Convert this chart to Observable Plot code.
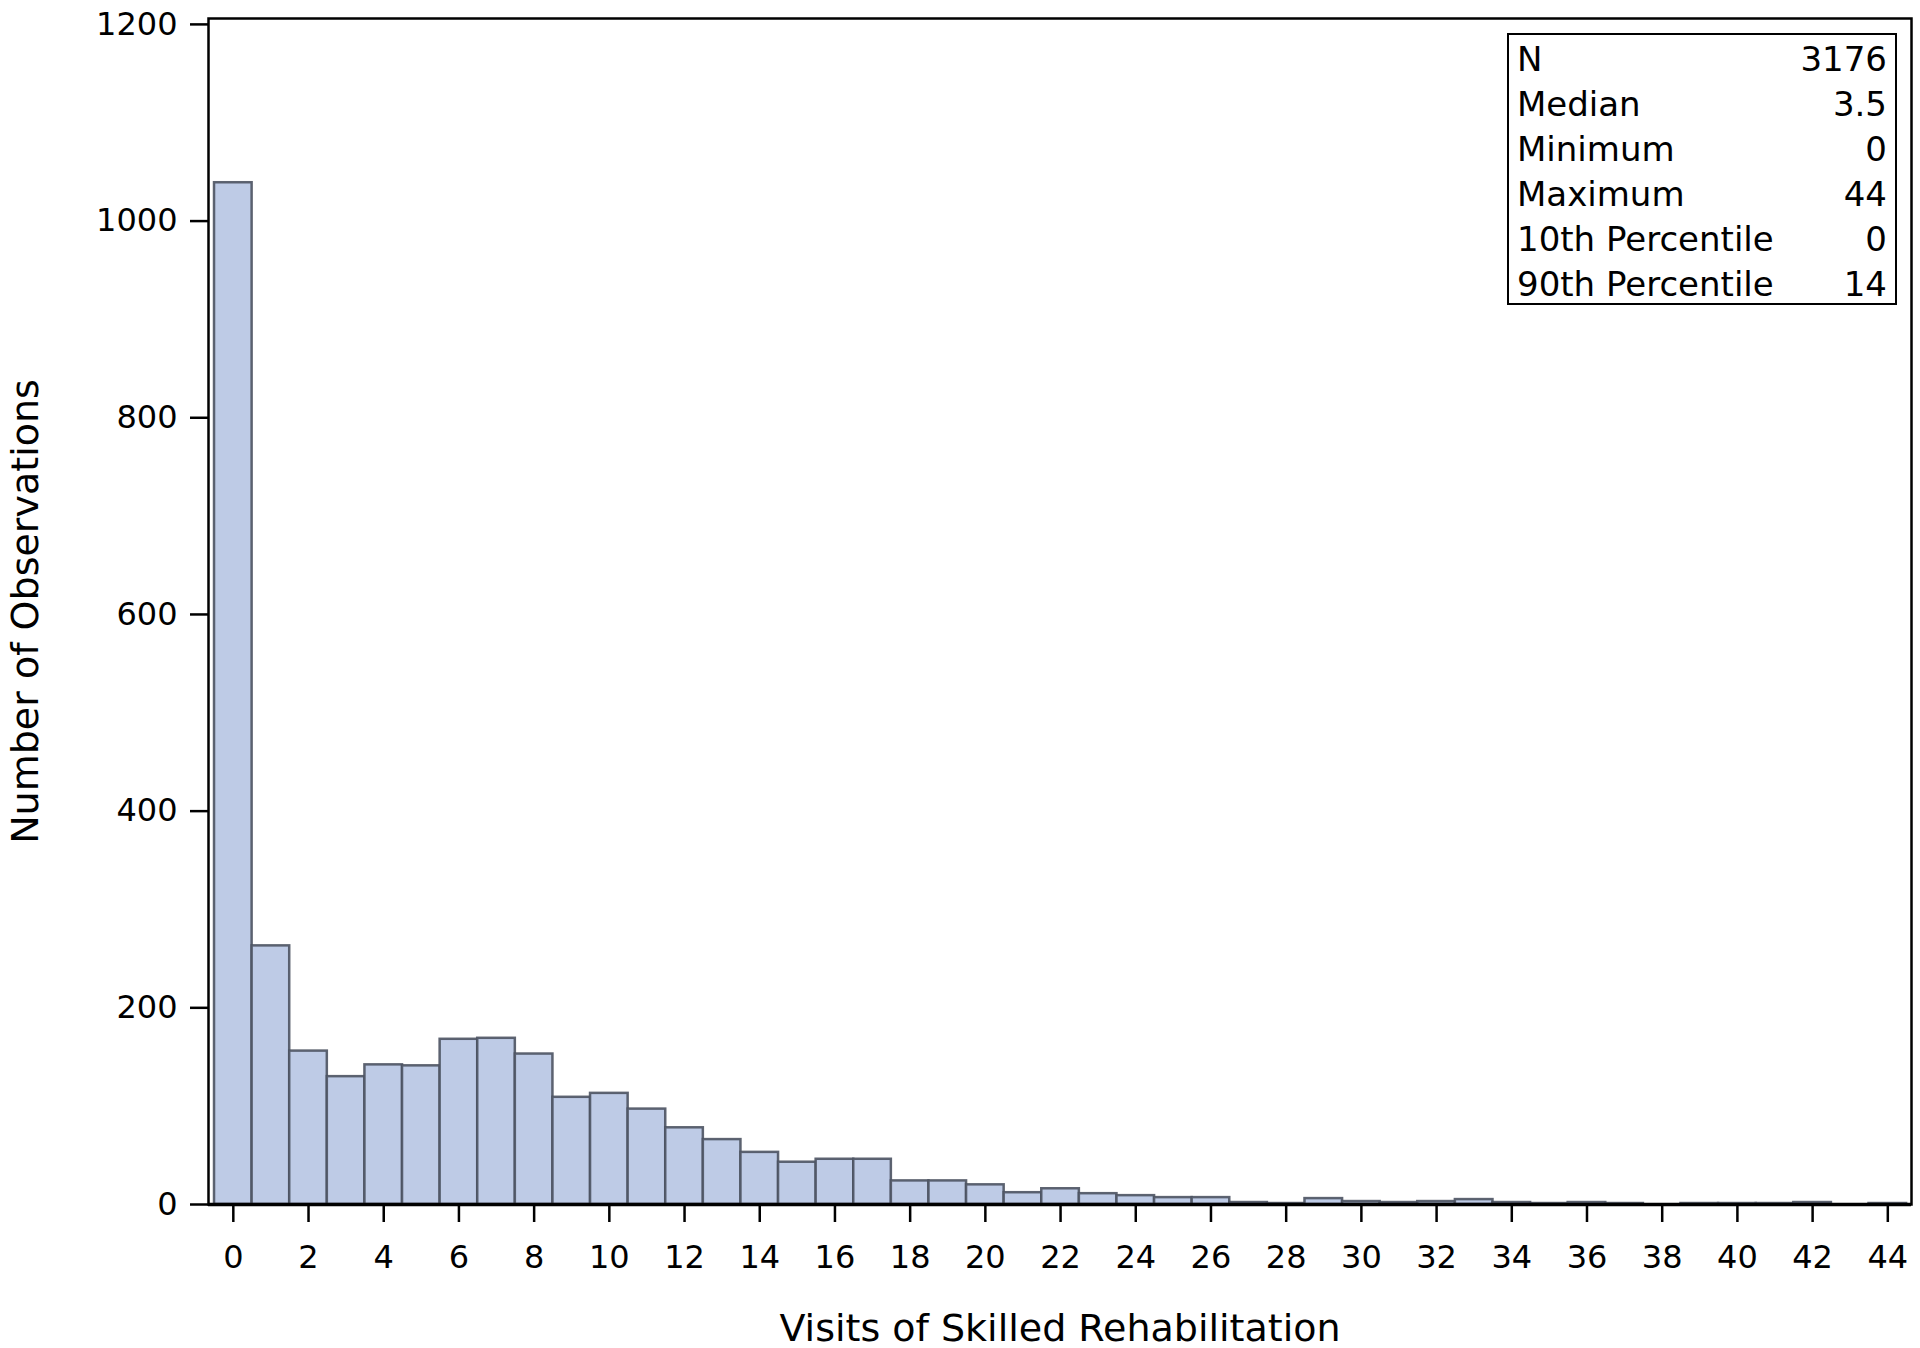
<!DOCTYPE html>
<html>
<head>
<meta charset="utf-8">
<script src="https://cdn.jsdelivr.net/npm/d3@7"></script>
<script src="https://cdn.jsdelivr.net/npm/@observablehq/plot@0.6"></script>
<style>
  html, body { margin: 0; padding: 0; background: #fff; }
  #wrap { position: relative; width: 1920px; height: 1348px; font-family: "DejaVu Sans", sans-serif; }
  #stats {
    position: absolute; left: 1507px; top: 33px; width: 390px; height: 272px;
    box-sizing: border-box; border: 2.5px solid #000; padding: 2px 8px 0 8px;
    font-size: 34px; line-height: 45px; color: #000; background: #fff; overflow: visible;
  }
  .row { display: flex; justify-content: space-between; white-space: nowrap; }
</style>
</head>
<body>
<div id="wrap"></div>
<script>
// Histogram bins (visit counts) and number of observations per bin
const visits = [0,1,2,3,4,5,6,7,8,9,10,11,12,13,14,15,16,17,18,19,20,21,22,23,24,25,26,27,28,29,30,31,32,33,34,35,36,37,38,39,40,41,42,43,44];
const counts = [1039,263,156,130,142,141,168,169,153,109,113,97,78,66,53,43,46,46,24,24,20,12,16,11,9,7,7,2,1,6,3,2,3,5,2,1,2,1,0,1,1,1,2,0,1];

// Axis ticks
const xTicks = [0,2,4,6,8,10,12,14,16,18,20,22,24,26,28,30,32,34,36,38,40,42,44];
const yTicks = [0,200,400,600,800,1000,1200];

// Axis titles
const xTitle = "Visits of Skilled Rehabilitation";
const yTitle = "Number of Observations";

// Summary statistics inset
const statLabels = ["N","Median","Minimum","Maximum","10th Percentile","90th Percentile"];
const statValues = ["3176","3.5","0","44","0","14"];

const table = visits.map((v, i) => ({visit: v, count: counts[i]}));

const fillColor = "#becbe6";
const edgeColor = "#4d5362";

const chart = Plot.plot({
  width: 1920,
  height: 1348,
  marginLeft: 208,
  marginRight: 9,
  marginTop: 18,
  marginBottom: 144,
  style: {fontFamily: "DejaVu Sans, sans-serif", fontSize: "32px", color: "#000", background: "#fff"},
  x: {domain: [-0.66, 44.63]},
  y: {domain: [0, 1206]},
  marks: [
    Plot.rect(table, {
      x1: d => d.visit - 0.5,
      x2: d => d.visit + 0.5,
      y1: 0,
      y2: "count",
      fill: fillColor,
      stroke: edgeColor,
      strokeWidth: 2.5,
      strokeOpacity: 0.9
    }),
    Plot.axisX({ticks: xTicks, tickSize: 18, tickPadding: 23, strokeWidth: 2.5, fontSize: 32, label: null, tickFormat: d => String(d)}),
    Plot.axisY({ticks: yTicks, tickSize: 18, tickPadding: 13, strokeWidth: 2.5, fontSize: 32, label: null, tickFormat: d => String(d)}),
    Plot.frame({stroke: "#000", strokeWidth: 2.5}),
    Plot.ruleY([0], {stroke: "#000", strokeWidth: 3.5}),
    Plot.text([xTitle], {frameAnchor: "bottom", textAnchor: "middle", lineAnchor: "bottom", dy: 136, fontSize: 38, fill: "#000"}),
    Plot.text([yTitle], {frameAnchor: "left", textAnchor: "middle", lineAnchor: "bottom", rotate: -90, dx: -171, fontSize: 38, fill: "#000"})
  ]
});

const wrap = document.getElementById("wrap");
wrap.appendChild(chart);

const box = document.createElement("div");
box.id = "stats";
statLabels.forEach((lab, i) => {
  const row = document.createElement("div");
  row.className = "row";
  const a = document.createElement("span"); a.textContent = lab;
  const b = document.createElement("span"); b.textContent = statValues[i];
  row.appendChild(a); row.appendChild(b);
  box.appendChild(row);
});
wrap.appendChild(box);
</script>
</body>
</html>
